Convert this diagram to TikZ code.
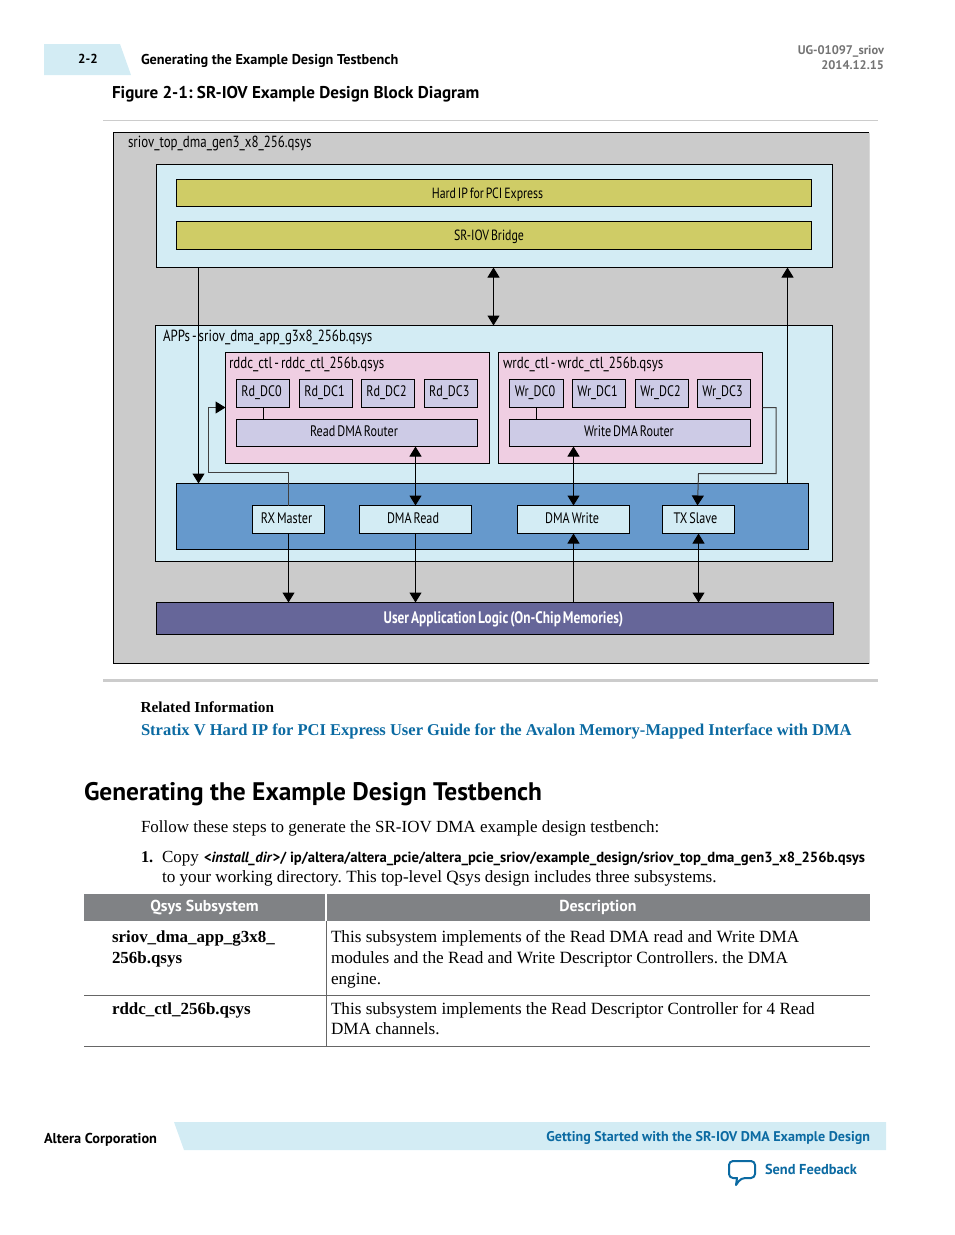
\documentclass[tikz,border=0pt]{standalone}
\usepackage{fontspec}
\usepackage{tikz}
\usetikzlibrary{arrows.meta}
\setmainfont{Liberation Serif}
\newfontfamily\headfont{PT Sans}
\newfontfamily\condfont[FakeStretch=0.80,WordSpace=0.6]{PT Sans}
\frenchspacing

\definecolor{paleblue}{HTML}{D3ECF4}
\definecolor{graybg}{HTML}{CBCBCB}
\definecolor{olivebox}{HTML}{CFCC66}
\definecolor{pinkbox}{HTML}{EFCEE2}
\definecolor{lavbox}{HTML}{CDCBE6}
\definecolor{midblue}{HTML}{6699CC}
\definecolor{purplebox}{HTML}{666699}
\definecolor{tablehead}{HTML}{808285}
\definecolor{linkblue}{HTML}{0B6AA2}

\begin{document}
\begin{tikzpicture}[x=0.75pt,y=-0.75pt,
    box/.style={draw=black,line width=0.75pt,inner sep=0pt,outer sep=0pt,text height=8pt,text depth=3.2pt,font=\condfont\fontsize{11.4}{13}\selectfont},
    pale/.style={box,fill=paleblue},
    olive/.style={box,fill=olivebox,text depth=0pt,minimum width=635*0.75pt,minimum height=27.5*0.75pt,font=\condfont\fontsize{11.1}{13}\selectfont},
    pink/.style={box,fill=pinkbox,minimum width=264*0.75pt,minimum height=111*0.75pt},
    dcbox/.style={box,fill=lavbox,minimum width=53.5*0.75pt,minimum height=28*0.75pt},
    router/.style={box,fill=lavbox,minimum width=241*0.75pt,minimum height=27*0.75pt},
    port/.style={pale,text depth=2pt,minimum height=28*0.75pt},
    conn/.style={line width=0.75pt,-{Triangle[width=9pt,length=7.5pt,black]}},
    both/.style={line width=0.75pt,{Triangle[width=9pt,length=7.5pt]}-{Triangle[width=9pt,length=7.5pt]}},
    grayconn/.style={conn,draw=black!75},
    txt/.style={anchor=base west,inner sep=0pt,outer sep=0pt},
    tag/.style={txt,font=\condfont\fontsize{12.1}{13}\selectfont}]

    \useasboundingbox (0,0) rectangle (954,1235);

    % page header
    \fill[paleblue] (44,44) -- (120,44) -- (131,75) -- (44,75) -- cycle;
    \node[txt,anchor=base,font=\headfont\bfseries\fontsize{9.8}{11}\selectfont] (pagenum) at (88,63) {2-2};
    \node[txt,font=\headfont\bfseries\fontsize{10.7}{12}\selectfont] (pagetitle) at (141,64) {Generating the Example Design Testbench};
    \node[txt,anchor=base east,text=black!55,font=\headfont\bfseries\fontsize{9.35}{11}\selectfont] (docid) at (884,54) {UG-01097\_sriov};
    \node[txt,anchor=base east,text=black!55,font=\headfont\bfseries\fontsize{9.35}{11}\selectfont] (docdate) at (884,69) {2014.12.15};
    \node[txt,font=\headfont\bfseries\fontsize{12.8}{14}\selectfont] (figtitle) at (112,98) {Figure 2-1: SR-IOV Example Design Block Diagram};

    \draw[black!20,line width=0.75pt] (103,120.5) -- (878,120.5);
    \draw[black!20,line width=2pt] (103,680.5) -- (878,680.5);

    % outer box, open on the right
    \fill[graybg] (113.5,132.5) rectangle (869,663.5);
    \draw[black!15,line width=0.75pt] (869,132.5) -- (869,663.5);
    \draw[line width=0.75pt] (869,132.5) -- (113.5,132.5) -- (113.5,663.5) -- (869,663.5);
    \node[tag] (toplabel) at (128,147.3) {sriov\_top\_dma\_gen3\_x8\_256.qsys};

    \node[pale,minimum width=675.5*0.75pt,minimum height=103*0.75pt] (pciebox) at (494.25,216) {};
    \node[olive] (hardip) at (493.75,193) {\hspace*{-9.4pt}Hard IP for PCI Express};
    \node[olive] (bridge) at (494,235.5) {\hspace*{-7.5pt}SR-IOV Bridge};

    \node[pale,minimum width=677*0.75pt,minimum height=235.5*0.75pt] (appbox) at (494,443.25) {};
    \node[tag] (applabel) at (163,341) {APPs - sriov\_dma\_app\_g3x8\_256b.qsys};

    % read side
    \node[pink] (rddc) at (357.5,408) {};
    \node[tag] (rdlabel) at (229,368.3) {rddc\_ctl - rddc\_ctl\_256b.qsys};
    \node[dcbox] (rd0) at (263,393.5) {\hspace*{-2.2pt}Rd\_DC0};
    \node[dcbox] (rd1) at (326,393.5) {\hspace*{-2.2pt}Rd\_DC1};
    \node[dcbox] (rd2) at (388,393.5) {\hspace*{-2.2pt}Rd\_DC2};
    \node[dcbox] (rd3) at (450.75,393.5) {\hspace*{-2.2pt}Rd\_DC3};
    \node[router] (rdrouter) at (357,433) {\hspace*{-4.5pt}Read DMA Router};

    % write side
    \node[pink] (wrdc) at (630.5,408) {};
    \node[tag] (wrlabel) at (503,368.3) {wrdc\_ctl - wrdc\_ctl\_256b.qsys};
    \node[dcbox] (wr0) at (536.5,393.5) {\hspace*{-2.2pt}Wr\_DC0};
    \node[dcbox] (wr1) at (599,393.5) {\hspace*{-2.2pt}Wr\_DC1};
    \node[dcbox] (wr2) at (662,393.5) {\hspace*{-2.2pt}Wr\_DC2};
    \node[dcbox] (wr3) at (724,393.5) {\hspace*{-2.2pt}Wr\_DC3};
    \node[router] (wrrouter) at (630,433) {\hspace*{-1.5pt}Write DMA Router};

    % avalon ports
    \node[box,fill=midblue,minimum width=632*0.75pt,minimum height=66*0.75pt] (band) at (492.5,516.5) {};
    \node[port,minimum width=72*0.75pt] (rxmaster) at (288.5,519.5) {\hspace*{-3pt}RX Master};
    \node[port,minimum width=112*0.75pt] (dmaread) at (415.5,519.5) {\hspace*{-3.7pt}DMA Read};
    \node[port,minimum width=112*0.75pt] (dmawrite) at (573.5,519.5) {\hspace*{-2.2pt}DMA Write};
    \node[port,minimum width=72*0.75pt] (txslave) at (698.5,519.5) {\hspace*{-4.5pt}TX Slave};

    \node[box,fill=purplebox,text=white,text depth=0.5pt,minimum width=677*0.75pt,minimum height=32*0.75pt,font=\condfont\bfseries\fontsize{12.5}{14}\selectfont] (userapp) at (495,618.5) {\hspace*{12.8pt}User Application Logic (On-Chip Memories)};

    % x positions of the connectors
    \coordinate (xrst) at (198.5,0);
    \coordinate (xmid) at (493.5,0);
    \coordinate (xcfg) at (787.5,0);
    \coordinate (xrd) at (415.5,0);
    \coordinate (xwr) at (573.5,0);
    \coordinate (xrx) at (288.5,0);
    \coordinate (xtx) at (698.5,0);
    \coordinate (xrd0) at (263.5,0);
    \coordinate (xwr0) at (536.5,0);
    \coordinate (rxturn) at (208.5,472.5);
    \coordinate (wrturn) at (776,473.5);

    \draw[conn] (pciebox.south -| xrst) -- (band.north -| xrst);
    \draw[both] (pciebox.south -| xmid) -- (appbox.north -| xmid);
    \draw[conn] (band.north -| xcfg) -- (pciebox.south -| xcfg);
    \draw[both] (rdrouter.south -| xrd) -- (dmaread.north -| xrd);
    \draw[both] (wrrouter.south -| xwr) -- (dmawrite.north -| xwr);
    \draw[conn] (rxmaster.south -| xrx) -- (userapp.north -| xrx);
    \draw[conn] (dmaread.south -| xrd) -- (userapp.north -| xrd);
    \draw[conn] (userapp.north -| xwr) -- (dmawrite.south -| xwr);
    \draw[both] (txslave.south -| xtx) -- (userapp.north -| xtx);
    \draw[line width=0.75pt] (rd0.south -| xrd0) -- (rdrouter.north -| xrd0);
    \draw[line width=0.75pt] (wr0.south -| xwr0) -- (wrrouter.north -| xwr0);
    \draw[grayconn] (rxmaster.north) -- (rxmaster.north |- rxturn) -- (rxturn) -- (rxturn |- rd0.south) -- (rddc.west |- rd0.south);
    \draw[grayconn] (wrdc.east |- rd0.south) -- (wrturn |- rd0.south) -- (wrturn) -- (wrturn -| txslave.north) -- ([xshift=-0.75pt]txslave.north);

    % text below the figure
    \node[txt,font=\bfseries\fontsize{11.45}{13}\selectfont] (relinfo) at (140.5,712) {Related Information};
    \node[txt,text=linkblue,font=\bfseries\fontsize{12.4}{14}\selectfont] (relink) at (141,735) {Stratix V Hard IP for PCI Express User Guide for the Avalon Memory-Mapped Interface with DMA};
    \node[txt,font=\headfont\bfseries\fontsize{19.05}{22}\selectfont] (heading) at (84,800) {Generating the Example Design Testbench};
    \node[txt,font=\fontsize{12.75}{14}\selectfont] (intro) at (141,832) {Follow these steps to generate the SR-IOV DMA example design testbench:};
    \node[txt,font=\bfseries\fontsize{12.3}{14}\selectfont] (stepnum) at (141,862) {1.};
    \node[txt,font=\fontsize{12.75}{14}\selectfont] (stepcopy) at (162,862) {Copy};
    \node[txt,font=\headfont\bfseries\fontsize{11}{13}\selectfont] (steppath) at (204,862) {<\textit{install\_dir}>/ ip/altera/altera\_pcie/altera\_pcie\_sriov/example\_design/sriov\_top\_dma\_gen3\_x8\_256b.qsys};
    \node[txt,font=\fontsize{12.87}{14}\selectfont] (stepline) at (162,882) {to your working directory. This top-level Qsys design includes three subsystems.};

    % table
    \fill[tablehead] (84,894) rectangle (325,921);
    \fill[tablehead] (327,894) rectangle (870,921);
    \node[txt,anchor=base,text=white,font=\headfont\bfseries\fontsize{11.9}{14}\selectfont] (colone) at (204.5,911) {Qsys Subsystem};
    \node[txt,anchor=base,text=white,font=\headfont\bfseries\fontsize{11.9}{14}\selectfont] (coltwo) at (598,911) {Description};
    \draw[black!60,line width=0.75pt] (326.5,921) -- (326.5,1046.5);
    \draw[black!60,line width=0.75pt] (84,995.5) -- (870,995.5);
    \draw[black!60,line width=0.75pt] (84,1046.5) -- (870,1046.5);

    \node[txt,font=\bfseries\fontsize{12.7}{14}\selectfont] (subone) at (112,942) {sriov\_dma\_app\_g3x8\_};
    \node[txt,font=\bfseries\fontsize{12.7}{14}\selectfont] (subtwo) at (112,963) {256b.qsys};
    \node[txt,font=\bfseries\fontsize{12.7}{14}\selectfont] (subrd) at (112,1014) {rddc\_ctl\_256b.qsys};
    \node[txt,font=\fontsize{12.87}{14}\selectfont] (descone) at (331,942) {This subsystem implements of the Read DMA read and Write DMA};
    \node[txt,font=\fontsize{12.9}{14}\selectfont] (desctwo) at (331,963) {modules and the Read and Write Descriptor Controllers. the DMA};
    \node[txt,font=\fontsize{12.87}{14}\selectfont] (descthree) at (331,984) {engine.};
    \node[txt,font=\fontsize{12.87}{14}\selectfont] (descfour) at (331,1014) {This subsystem implements the Read Descriptor Controller for 4 Read};
    \node[txt,font=\fontsize{12.87}{14}\selectfont] (descfive) at (331,1034) {DMA channels.};

    % page footer
    \fill[paleblue] (174,1122) -- (886,1122) -- (886,1150) -- (184,1150) -- cycle;
    \node[txt,font=\headfont\bfseries\fontsize{10.75}{12}\selectfont] (altera) at (44,1143) {Altera Corporation};
    \node[txt,anchor=base east,text=linkblue,font=\headfont\bfseries\fontsize{10.55}{12}\selectfont] (guide) at (870,1141) {Getting Started with the SR-IOV DMA Example Design};
    \node[txt,text=linkblue,font=\headfont\bfseries\fontsize{10.8}{12}\selectfont] (feedback) at (765,1174) {Send Feedback};
    \draw[linkblue,line width=1.5pt,line join=round,rounded corners=3pt] (729,1161) -- (755,1161) -- (755,1178) -- (741,1178) [sharp corners] -- (736,1185) -- (737,1178) [rounded corners=3pt] -- (729,1178) -- cycle;
\end{tikzpicture}
\end{document}
